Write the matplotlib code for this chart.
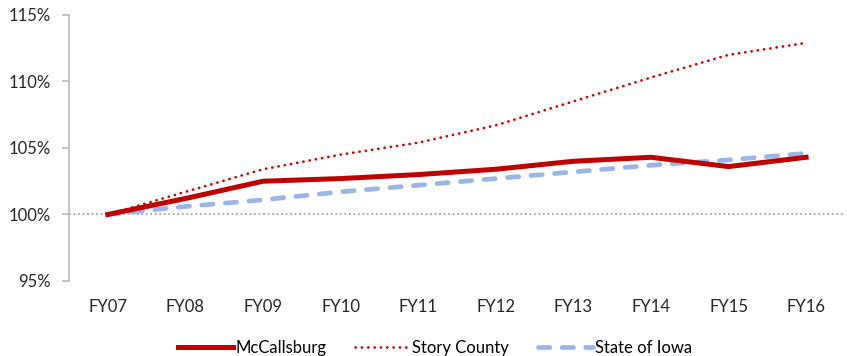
import matplotlib.pyplot as plt
import matplotlib.ticker as ticker

years = ['FY07', 'FY08', 'FY09', 'FY10', 'FY11', 'FY12', 'FY13', 'FY14', 'FY15', 'FY16']
mccallsburg = [100.0, 101.2, 102.5, 102.7, 103.0, 103.4, 104.0, 104.3, 103.6, 104.3]
story_county = [100.0, 101.7, 103.4, 104.5, 105.4, 106.7, 108.5, 110.3, 112.0, 112.9]
state_iowa = [100.0, 100.6, 101.1, 101.7, 102.2, 102.7, 103.2, 103.7, 104.1, 104.6]

plt.rcParams['font.family'] = ['Lato', 'DejaVu Sans']

fig = plt.figure(figsize=(8.47, 3.56), dpi=100)
ax = fig.add_axes([0.0815, 0.2107, 0.916, 0.7473])

x = range(len(years))
ax.axhline(100, color='#a6a6a6', lw=1.3, ls=(0, (1, 1.5)), zorder=1)
ax.plot(x, mccallsburg, color='#c00000', lw=3.6, label='McCallsburg', zorder=3)
ax.plot(x, story_county, color='#d00000', lw=1.9, ls=(0, (0.1, 2.3)), dash_capstyle='round',
        label='Story County', zorder=3)
ax.plot(x, state_iowa, color='#9bb6e4', lw=3.4, ls=(0, (2.4, 2.6)), dash_capstyle='round',
        label='State of Iowa', zorder=2)

ax.set_xlim(-0.5, len(years) - 0.5)
ax.set_ylim(95, 115)
ax.set_xticks(list(x))
ax.set_xticklabels(years)
ax.yaxis.set_major_locator(ticker.MultipleLocator(5))
ax.yaxis.set_major_formatter(ticker.FuncFormatter(lambda v, p: f'{v:.0f}%'))

for s in ['top', 'right', 'bottom']:
    ax.spines[s].set_visible(False)
ax.spines['left'].set_color('#bfbfbf')
ax.spines['left'].set_linewidth(1.3)
ax.tick_params(axis='y', colors='#bfbfbf', labelcolor='#262626', labelsize=12, length=5, width=1.3, pad=8)
ax.tick_params(axis='x', length=0, labelcolor='#262626', labelsize=12, pad=13)

ax.legend(loc='upper center', bbox_to_anchor=(0.472, -0.165), ncol=3, frameon=False,
          fontsize=12, handlelength=3.3, handletextpad=0.15, columnspacing=1.7)

fig.savefig('out.png', dpi=100)
